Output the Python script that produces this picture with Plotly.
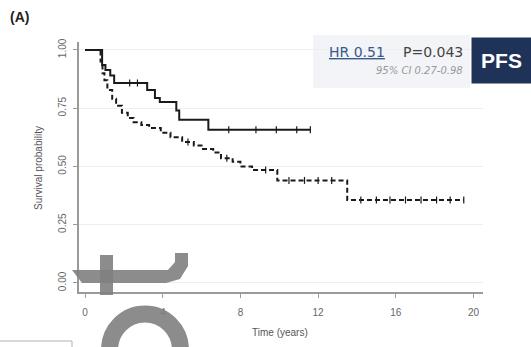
import numpy as np
import plotly.graph_objects as go

# ---- data ----
pfs_a_t = [0, 0.88, 1.05, 1.3, 1.5, 3.2, 3.6, 3.85, 4.7, 4.85, 6.35, 11.6]
pfs_a_s = [1.0, 0.935, 0.914, 0.89, 0.858, 0.828, 0.794, 0.777, 0.74, 0.70, 0.657, 0.657]
pfs_a_cens = [2.3, 2.7, 7.4, 8.8, 9.85, 10.9, 11.6]

pfs_b_t = [0, 0.8, 0.9, 1.0, 1.15, 1.4, 1.6, 1.9, 2.2, 2.5, 2.9, 3.3, 3.9, 4.4, 5.0,
           5.6, 6.0, 6.6, 7.0, 7.6, 8.0, 8.6, 9.9, 13.5, 19.5]
pfs_b_s = [1.0, 0.95, 0.90, 0.87, 0.828, 0.79, 0.76, 0.73, 0.708, 0.69, 0.678, 0.665,
           0.645, 0.625, 0.605, 0.59, 0.575, 0.56, 0.535, 0.52, 0.50, 0.485, 0.44, 0.356, 0.356]
pfs_b_cens = [5.3, 7.3, 9.3, 10.5, 11.3, 12.0, 12.7, 14.2, 15.0, 15.7, 16.5, 17.3, 18.1, 18.8, 19.5]

x_ticks = [0, 4, 8, 12, 16, 20]
y_ticks = [0.0, 0.25, 0.50, 0.75, 1.00]
y_tick_labels = ["0.00", "0.25", "0.50", "0.75", "1.00"]

hr_text = "HR 0.51"
p_text = "P=0.043"
ci_text = "95% CI 0.27-0.98"
badge_text = "PFS"

# ---- layout geometry ----
W, H = 531, 347
L, R, T, B = 79, 48, 42, 55
PW, PH = W - L - R, H - T - B


def px(x):
    return (x - L) / PW


def py(y):
    return (H - B - y) / PH


def step_at(ts, ss, t):
    i = np.searchsorted(np.array(ts), t, side="right") - 1
    return ss[max(i, 0)]


fig = go.Figure()
fig.add_trace(go.Scatter(x=pfs_a_t, y=pfs_a_s, mode="lines", line_shape="hv",
                         line=dict(color="#1a1a1a", width=2), showlegend=False,
                         hoverinfo="skip"))
fig.add_trace(go.Scatter(x=pfs_b_t, y=pfs_b_s, mode="lines", line_shape="hv",
                         line=dict(color="#1a1a1a", width=2, dash="5px,3px"),
                         showlegend=False, hoverinfo="skip"))
fig.add_trace(go.Scatter(x=pfs_a_cens, y=[step_at(pfs_a_t, pfs_a_s, t) for t in pfs_a_cens],
                         mode="markers",
                         marker=dict(symbol="line-ns", size=5,
                                     line=dict(color="#1a1a1a", width=1.2)),
                         showlegend=False, hoverinfo="skip"))
fig.add_trace(go.Scatter(x=pfs_b_cens, y=[step_at(pfs_b_t, pfs_b_s, t) for t in pfs_b_cens],
                         mode="markers",
                         marker=dict(symbol="line-ns", size=5,
                                     line=dict(color="#1a1a1a", width=1.2)),
                         showlegend=False, hoverinfo="skip"))

font_family = "Liberation Sans, Arial, sans-serif"
wide_family = "DejaVu Sans, sans-serif"

fig.update_layout(
    width=W, height=H,
    margin=dict(l=L, r=R, t=T, b=B, autoexpand=False),
    paper_bgcolor="white", plot_bgcolor="white",
    font=dict(family=font_family, color="#555", size=10),
    xaxis=dict(range=[-0.31, 20.49], tickvals=x_ticks, ticktext=[str(v) for v in x_ticks],
               showgrid=False, zeroline=False, showline=True, linecolor="#9a9a9a",
               linewidth=1.5, ticks="outside", ticklen=4, tickcolor="#9a9a9a",
               ticklabelstandoff=6, tickfont=dict(size=10, color="#666")),
    yaxis=dict(range=[-0.039, 1.034], tickvals=y_ticks, ticktext=y_tick_labels,
               showgrid=True, gridcolor="#eeeeee", gridwidth=1, zeroline=False,
               showline=True, linecolor="#9a9a9a", linewidth=1.5, ticks="outside",
               ticklen=4, tickcolor="#9a9a9a", tickangle=-90, ticklabelstandoff=3,
               tickfont=dict(size=10, color="#666")),
)

shapes = []
# faint annotation panel
shapes.append(dict(type="rect", xref="paper", yref="paper", x0=px(313), x1=px(470),
                   y0=py(88), y1=py(35), fillcolor="#f2f4f8", line=dict(width=0),
                   layer="below"))
# bottom-left box outline
shapes.append(dict(type="rect", xref="paper", yref="paper", x0=px(-5), x1=px(72),
                   y0=py(360), y1=py(341), fillcolor="rgba(0,0,0,0)",
                   line=dict(color="#b0b0b0", width=1)))
# watermark "t"
wm = "rgba(128,128,128,0.9)"
stem = [(100, 255), (113, 255), (113, 295), (100, 295)]
bar = [(72, 270), (168, 270), (175, 262), (175, 253), (188, 253), (188, 266),
       (180, 279), (166, 283), (82, 283)]
for poly in (stem, bar):
    path = "M " + " L ".join(f"{px(a):.5f},{py(b):.5f}" for a, b in poly) + " Z"
    shapes.append(dict(type="path", xref="paper", yref="paper", path=path,
                       fillcolor=wm, line=dict(width=0)))
# watermark "o"
shapes.append(dict(type="circle", xref="paper", yref="paper",
                   x0=px(145 - 35.5), x1=px(145 + 35.5), y0=py(350 + 36), y1=py(350 - 36),
                   fillcolor="rgba(0,0,0,0)", line=dict(color=wm, width=17)))
fig.update_layout(shapes=shapes)


def note(x, y, text, size, color, family=font_family, xanchor="center", angle=0, **kw):
    d = dict(xref="paper", yref="paper", x=px(x), y=py(y), xanchor=xanchor,
             yanchor="middle", text=text, showarrow=False, textangle=angle,
             font=dict(size=size, color=color, family=family))
    d.update(kw)
    return d


ann = [
    note(8, 17, "<b>(A)</b>", 14, "#222", xanchor="left"),
    note(38, 168, "Survival probability", 10, "#555", angle=-90),
    note(280, 332, "Time (years)", 10, "#555"),
    note(327, 52, "<u>" + hr_text + "</u>", 14, "#3a5a8c", wide_family, xanchor="left"),
    note(465, 52, p_text, 14, "#444", wide_family, xanchor="right"),
    note(465, 70, "<i>" + ci_text + "</i>", 10, "#999", wide_family, xanchor="right"),
    note(501.5, 60.5, "<b>" + badge_text + "</b>", 21, "white", xanchor="center",
         bgcolor="#1f3358", width=55, height=41, borderpad=2, align="center"),
]
fig.update_layout(annotations=ann)

fig.write_html("out.html", config={"displayModeBar": False},
               post_script="document.body.style.margin='0';document.body.style.overflow='hidden';")
